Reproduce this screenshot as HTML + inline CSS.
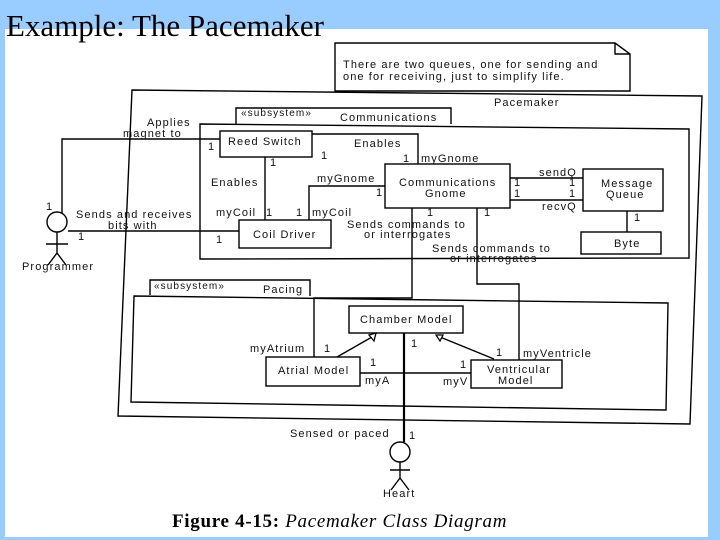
<!DOCTYPE html>
<html><head><meta charset="utf-8"><style>
html,body{margin:0;padding:0;background:#99ccff;}
svg{display:block}
.t{font-family:"Liberation Sans",sans-serif;font-size:11px;letter-spacing:1.1px;fill:#111}
</style></head><body>
<svg width="720" height="540" viewBox="0 0 720 540" xmlns="http://www.w3.org/2000/svg">
<rect x="0" y="0" width="720" height="540" fill="#99ccff"/>
<rect x="5" y="29" width="703" height="508" fill="#fff"/>
<text x="6" y="36" font-family="'Liberation Serif',serif" font-size="31" fill="#000">Example: The Pacemaker</text>
<g fill="none" stroke="#000" stroke-width="1.4">
<path d="M335,43 L615,43 L630,54 L630,91 L335,91 Z"/>
<path d="M615,43 L615,54 L630,54"/>
<path d="M132,90 L702,96 L690,424 L118,416 Z"/>
<path d="M236,124 L236,108 L451,108 L451,124"/>
<path d="M200,124 L689,129 L689,258 L200,259 Z"/>
<rect x="220" y="131" width="92" height="26"/>
<rect x="385" y="164" width="125" height="44"/>
<rect x="583" y="169" width="80" height="42"/>
<rect x="239" y="220" width="92" height="28"/>
<rect x="581" y="232" width="80" height="22"/>
<path d="M62,213 L62,139 L220,139"/>
<path d="M312,134 L418,134 L418,164"/>
<path d="M265,157 L265,220"/>
<path d="M309,220 L309,186 L385,186"/>
<path d="M510,178 L583,178"/>
<path d="M510,200 L583,200"/>
<path d="M627,211 L627,232"/>
<path d="M68,231 L239,231"/>
<path d="M412,208 L412,298 L314,298 L314,357"/>
<path d="M477,208 L477,284 L519,284 L519,360"/>
<path d="M150,295 L150,280 L310,280 L310,296"/>
<path d="M134,296 L668,303 L666,410 L131,402 Z"/>
<rect x="349" y="306" width="114" height="27"/>
<rect x="266" y="357" width="94" height="29"/>
<rect x="471" y="360" width="91" height="28"/>
<path d="M360,373 L471,373"/>
<path d="M337,357 L372,337"/>
<path d="M494,359 L440,337"/>
<path d="M404,333 L404,442" stroke-width="2.2"/>
<circle cx="57" cy="222" r="10"/>
<path d="M57,232 L57,253 M46,244 L68,244 M57,253 L48,265 M57,253 L66,265"/>
<circle cx="400" cy="452" r="10"/>
<path d="M400,462 L400,478 M390,470 L410,470 M400,478 L391,490 M400,478 L409,490"/>
</g>
<g fill="#fff" stroke="#000" stroke-width="1.3">
<path d="M376,333 L369,335 L374,341 Z"/>
<path d="M436,335 L440,341 L443,335 Z"/>
</g>
<g class="t">
<text x="343" y="68">There are two queues, one for sending and</text>
<text x="343" y="80">one for receiving, just to simplify life.</text>
<text x="494" y="106">Pacemaker</text>
<text x="241" y="116" font-size="10">«subsystem»</text>
<text x="340" y="121">Communications</text>
<text x="147" y="126">Applies</text>
<text x="123" y="137">magnet to</text>
<text x="208" y="150">1</text>
<text x="228" y="145">Reed Switch</text>
<text x="354" y="147">Enables</text>
<text x="403" y="162">1</text>
<text x="421" y="162">myGnome</text>
<text x="270" y="166">1</text>
<text x="321" y="159">1</text>
<text x="211" y="186">Enables</text>
<text x="317" y="182">myGnome</text>
<text x="376" y="196">1</text>
<text x="399" y="186">Communications</text>
<text x="425" y="197">Gnome</text>
<text x="539" y="176">sendQ</text>
<text x="514" y="186">1</text>
<text x="569" y="186">1</text>
<text x="514" y="197">1</text>
<text x="569" y="197">1</text>
<text x="542" y="210">recvQ</text>
<text x="601" y="187">Message</text>
<text x="606" y="198">Queue</text>
<text x="634" y="221">1</text>
<text x="614" y="247">Byte</text>
<text x="216" y="216">myCoil</text>
<text x="266" y="216">1</text>
<text x="296" y="216">1</text>
<text x="312" y="216">myCoil</text>
<text x="253" y="238">Coil Driver</text>
<text x="427" y="216">1</text>
<text x="484" y="216">1</text>
<text x="347" y="228">Sends commands to</text>
<text x="364" y="238">or interrogates</text>
<text x="432" y="252">Sends commands to</text>
<text x="450" y="262">or interrogates</text>
<text x="46" y="210">1</text>
<text x="76" y="218">Sends and receives</text>
<text x="108" y="229">bits with</text>
<text x="78" y="240">1</text>
<text x="216" y="243">1</text>
<text x="22" y="270">Programmer</text>
<text x="154" y="289" font-size="10">«subsystem»</text>
<text x="263" y="293">Pacing</text>
<text x="360" y="323">Chamber Model</text>
<text x="250" y="352">myAtrium</text>
<text x="324" y="352">1</text>
<text x="411" y="347">1</text>
<text x="496" y="356">1</text>
<text x="523" y="357">myVentricle</text>
<text x="370" y="366">1</text>
<text x="278" y="374">Atrial Model</text>
<text x="460" y="368">1</text>
<text x="487" y="373">Ventricular</text>
<text x="498" y="384">Model</text>
<text x="365" y="384">myA</text>
<text x="443" y="385">myV</text>
<text x="290" y="437">Sensed or paced</text>
<text x="409" y="439">1</text>
<text x="383" y="497">Heart</text>
</g>
<text x="172" y="527" font-family="'Liberation Serif',serif" font-size="19" letter-spacing="0.7" font-weight="bold" fill="#000">Figure 4-15: <tspan font-weight="normal" font-style="italic">Pacemaker Class Diagram</tspan></text>
</svg>
</body></html>
